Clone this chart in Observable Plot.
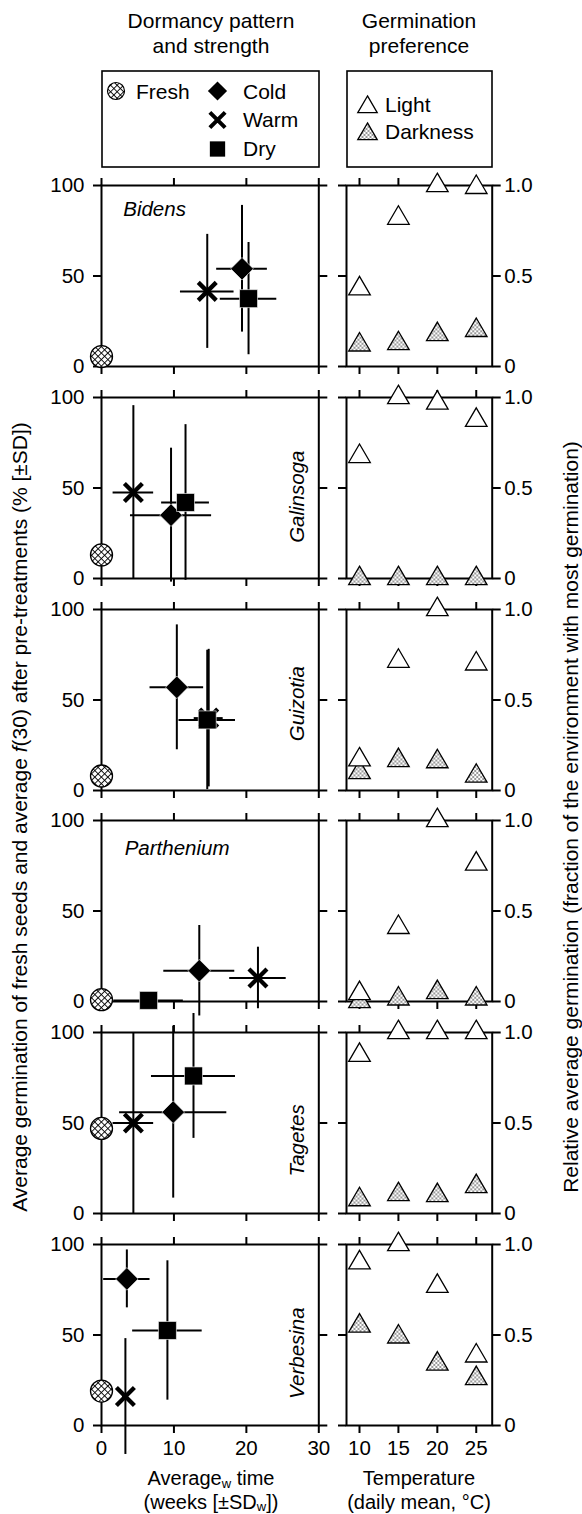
<!DOCTYPE html>
<html><head><meta charset="utf-8">
<script src="https://cdn.jsdelivr.net/npm/d3@7"></script>
<script src="https://cdn.jsdelivr.net/npm/@observablehq/plot@0.6"></script>
<style>
body{margin:0;background:#fff;}
#page{position:relative;width:582px;height:1514px;overflow:hidden;font-family:"Liberation Sans",Arial,Helvetica,sans-serif;}
#page svg{position:absolute;overflow:visible;}
</style></head><body><div id="page"></div>
<svg width="0" height="0" style="position:absolute">
 <defs>
  <pattern id="hatch" patternUnits="userSpaceOnUse" width="4.6" height="4.6" patternTransform="rotate(45)">
   <rect width="4.6" height="4.6" fill="white"/>
   <path d="M0 0.5H4.6M0.5 0V4.6" stroke="black" stroke-width="0.9"/>
  </pattern>
  <pattern id="dots" patternUnits="userSpaceOnUse" width="4" height="4">
   <rect width="4" height="4" fill="white"/>
   <circle cx="1" cy="1" r="0.75" fill="black"/>
   <circle cx="3" cy="3" r="0.75" fill="black"/>
  </pattern>
 </defs>
</svg>
<script>
// ---------------- data ----------------
const species = ["Bidens", "Galinsoga", "Guizotia", "Parthenium", "Tagetes", "Verbesina"];
const freshGerm = [5.5, 13, 8, 1, 47, 19];

const coldTime   = [19.4, 9.6, 10.4, 13.5, 9.9, 3.5];
const coldTimeSD = [3.5, 5.6, 3.7, 4.9, 7.4, 3.2];
const coldGerm   = [54, 35, 57, 17, 56, 81];
const coldGermSD = [35, 37, 34.5, 25, 47.5, 16];

const warmTime   = [14.6, 4.4, 14.8, 21.6, 4.4, 3.3];
const warmTimeSD = [3.7, 2.8, 2.0, 3.9, 2.8, 0.4];
const warmGerm   = [41.5, 47.5, 40, 13, 50, 16];
const warmGermSD = [31.5, 48, 38, 17, 50, 32];

const dryTime   = [20.3, 11.6, 14.6, 6.5, 12.7, 9.1];
const dryTimeSD = [3.9, 3.3, 3.9, 4.8, 5.8, 4.8];
const dryGerm   = [37.5, 42, 39, 0.6, 76, 52.5];
const dryGermSD = [31, 43, 38.5, 0, 34.5, 38.5];

const temperatures = [10, 15, 20, 25];
const lightRel = [
  [0.43, 0.82, 1.0, 0.99],
  [0.675, 1.0, 0.97, 0.875],
  [0.17, 0.715, 1.0, 0.70],
  [0.045, 0.41, 1.0, 0.76],
  [0.875, 1.0, 1.0, 1.0],
  [0.90, 1.0, 0.77, 0.385]
];
const darkRel = [
  [0.12, 0.127, 0.177, 0.20],
  [0.0, 0.0, 0.0, 0.0],
  [0.10, 0.166, 0.16, 0.08],
  [0.0, 0.015, 0.05, 0.015],
  [0.077, 0.105, 0.10, 0.15],
  [0.55, 0.49, 0.34, 0.26]
];
const timeTicks = [0, 10, 20, 30];
const germTicks = [0, 50, 100];
const relTicks = [0, 0.5, 1];

// ---------------- layout ----------------
const FONT = '"Liberation Sans", Arial, Helvetica, sans-serif';
const TICK_FS = "20.5px";
const PANEL_TOP0 = 185, PANEL_STEP = 211.8, PANEL_H = 181;
const labelPlacement = [
  {x: 3.0, y: 83.4, rotate: 0},
  {x: 27.1, y: 45.2, rotate: -90},
  {x: 27.1, y: 48, rotate: -90},
  {x: 3.2, y: 80.8, rotate: 0},
  {x: 27.1, y: 40.4, rotate: -90},
  {x: 27.1, y: 40, rotate: -90}
];

function mkDiamond(k){ return {draw(c){ const h=11.3*k; c.moveTo(0,-h); c.lineTo(h,0); c.lineTo(0,h); c.lineTo(-h,0); c.closePath(); }}; }
function mkSquare(k){ return {draw(c){ const s=9*k; c.moveTo(-s,-s); c.lineTo(s,-s); c.lineTo(s,s); c.lineTo(-s,s); c.closePath(); }}; }
function mkX(k){ return {draw(c){ const a=9*k; c.moveTo(-a,-a); c.lineTo(a,a); c.moveTo(-a,a); c.lineTo(a,-a); }}; }
function mkTri(k){ return {draw(c){ c.moveTo(0,-12.3*k); c.lineTo(10.8*k,6.2*k); c.lineTo(-10.8*k,6.2*k); c.closePath(); }}; }
const symDiamond = mkDiamond(1), symSquare = mkSquare(1), symX = mkX(1), symTri = mkTri(1);

const page = document.getElementById("page");
const baseStyle = {fontFamily: FONT, fontSize: TICK_FS, background: "transparent", overflow: "visible", color: "black"};
const noText = () => "";

species.forEach((sp, i) => {
  const last = i === species.length - 1;
  const top = PANEL_TOP0 + i * PANEL_STEP;
  const mt = 12, mb = last ? 40 : 12;
  const rows = [
    {trt: "warm", t: warmTime[i], tsd: warmTimeSD[i], g: warmGerm[i], gsd: warmGermSD[i]},
    {trt: "cold", t: coldTime[i], tsd: coldTimeSD[i], g: coldGerm[i], gsd: coldGermSD[i]},
    {trt: "dry", t: dryTime[i], tsd: dryTimeSD[i], g: dryGerm[i], gsd: dryGermSD[i]}
  ];
  const lp = labelPlacement[i];
  const left = Plot.plot({
    width: 340, height: PANEL_H + mt + mb,
    marginLeft: 101, marginRight: 340 - 318.3, marginTop: mt, marginBottom: mb,
    x: {domain: [0, 30], axis: null},
    y: {domain: [0, 100], axis: null},
    style: baseStyle,
    marks: [
      Plot.frame({stroke: "black", strokeWidth: 2}),
      Plot.axisY({ticks: germTicks, anchor: "left", tickSize: 8, tickPadding: 9, strokeWidth: 2, label: null}),
      Plot.axisY({ticks: germTicks, anchor: "right", tickSize: 8, strokeWidth: 2, label: null, tickFormat: noText}),
      Plot.axisX({ticks: timeTicks, anchor: "top", tickSize: 8, strokeWidth: 2, label: null, tickFormat: noText}),
      Plot.axisX({ticks: timeTicks, anchor: "bottom", tickSize: 8, tickPadding: 7, strokeWidth: 2, label: null, tickFormat: last ? undefined : noText}),
      Plot.text([sp], {x: () => lp.x, y: () => lp.y, text: d => d, rotate: lp.rotate, fontStyle: "italic",
        textAnchor: lp.rotate ? "middle" : "start", lineAnchor: lp.rotate ? "middle" : "bottom", fontSize: 20.5}),
      Plot.ruleY(rows, {y: "g", x1: d => d.t - d.tsd, x2: d => d.t + d.tsd, stroke: "black", strokeWidth: 2}),
      Plot.ruleX(rows, {x: "t", y1: d => d.g - d.gsd, y2: d => d.g + d.gsd, stroke: "black", strokeWidth: 2}),
      Plot.dot([{t: 0, g: freshGerm[i]}], {x: "t", y: "g", r: 11, fill: "url(#hatch)", stroke: "black", strokeWidth: 1.3}),
      Plot.dot(rows.filter(d => d.trt === "warm"), {x: "t", y: "g", symbol: symX, fill: "none", stroke: "black", strokeWidth: 4.3}),
      Plot.dot(rows.filter(d => d.trt === "cold"), {x: "t", y: "g", symbol: symDiamond, fill: "black", stroke: "white", strokeWidth: 0.6}),
      Plot.dot(rows.filter(d => d.trt === "dry"), {x: "t", y: "g", symbol: symSquare, fill: "black", stroke: "white", strokeWidth: 0.6})
    ]
  });
  left.style.left = "0px";
  left.style.top = (top - mt) + "px";
  page.appendChild(left);

  const light = temperatures.map((T, j) => ({T, r: lightRel[i][j]}));
  const dark = temperatures.map((T, j) => ({T, r: darkRel[i][j]}));
  const right = Plot.plot({
    width: 252, height: PANEL_H + mt + mb,
    marginLeft: 16, marginRight: 252 - 161.7, marginTop: mt, marginBottom: mb,
    x: {domain: [8.33, 27.05], axis: null},
    y: {domain: [0, 1], axis: null},
    style: baseStyle,
    marks: [
      Plot.frame({stroke: "black", strokeWidth: 2}),
      Plot.axisY({ticks: relTicks, anchor: "left", tickSize: 8, strokeWidth: 2, label: null, tickFormat: noText}),
      Plot.axisY({ticks: relTicks, anchor: "right", tickSize: 8, tickPadding: 4, strokeWidth: 2, label: null, tickFormat: d => d === 0 ? "0" : d.toFixed(1)}),
      Plot.axisX({ticks: temperatures, anchor: "top", tickSize: 8, strokeWidth: 2, label: null, tickFormat: noText}),
      Plot.axisX({ticks: temperatures, anchor: "bottom", tickSize: 8, tickPadding: 7, strokeWidth: 2, label: null, tickFormat: last ? undefined : noText}),
      Plot.dot(dark, {x: "T", y: "r", symbol: symTri, fill: "url(#dots)", stroke: "black", strokeWidth: 1.3}),
      Plot.dot(light, {x: "T", y: "r", symbol: symTri, fill: "white", stroke: "black", strokeWidth: 1.3})
    ]
  });
  right.style.left = "330px";
  right.style.top = (top - mt) + "px";
  page.appendChild(right);
});

// ---------------- titles & legends ----------------
const ov = d3.select(page).append("svg")
  .attr("width", 582).attr("height", 1514)
  .style("left", "0px").style("top", "0px").style("pointer-events", "none")
  .attr("font-family", FONT).attr("font-size", 21).attr("fill", "black");

function txt(s, x, y, anchor = "middle") {
  return ov.append("text").attr("x", x).attr("y", y).attr("text-anchor", anchor).text(s);
}
txt("Dormancy pattern", 211, 27.5);
txt("and strength", 211, 53);
txt("Germination", 419, 27.5);
txt("preference", 419, 53);

ov.append("rect").attr("x", 102).attr("y", 71).attr("width", 217).attr("height", 96)
  .attr("fill", "none").attr("stroke", "black").attr("stroke-width", 1.6);
ov.append("rect").attr("x", 347).attr("y", 71).attr("width", 145).attr("height", 96)
  .attr("fill", "none").attr("stroke", "black").attr("stroke-width", 1.6);

const k = 0.85;
ov.append("circle").attr("cx", 116).attr("cy", 91).attr("r", 8.5)
  .attr("fill", "url(#hatch)").attr("stroke", "black").attr("stroke-width", 1.2);
txt("Fresh", 136, 98.5, "start");
ov.append("path").attr("d", d3.symbol(mkDiamond(k))()).attr("transform", "translate(217.5,91)").attr("fill", "black");
txt("Cold", 243, 98.5, "start");
ov.append("path").attr("d", d3.symbol(mkX(k))()).attr("transform", "translate(217.5,120)")
  .attr("fill", "none").attr("stroke", "black").attr("stroke-width", 4);
txt("Warm", 243, 127, "start");
ov.append("path").attr("d", d3.symbol(mkSquare(k))()).attr("transform", "translate(217.5,149)").attr("fill", "black");
txt("Dry", 243, 155.5, "start");

ov.append("path").attr("d", d3.symbol(mkTri(0.9))()).attr("transform", "translate(367.5,107)")
  .attr("fill", "white").attr("stroke", "black").attr("stroke-width", 1.3);
txt("Light", 385, 112, "start");
ov.append("path").attr("d", d3.symbol(mkTri(0.9))()).attr("transform", "translate(367.5,134)")
  .attr("fill", "url(#dots)").attr("stroke", "black").attr("stroke-width", 1.3);
txt("Darkness", 385, 138.5, "start");

// y-axis titles
const yl = ov.append("text").attr("transform", "translate(26.7,817) rotate(-90)").attr("text-anchor", "middle");
yl.append("tspan").text("Average germination of fresh seeds and average ");
yl.append("tspan").attr("font-style", "italic").text("f");
yl.append("tspan").text("(30) after pre-treatments (% [±SD])");
ov.append("text").attr("transform", "translate(577.5,817) rotate(-90)").attr("text-anchor", "middle")
  .text("Relative average germination (fraction of the environment with most germination)");

// x-axis titles
const xl1 = ov.append("text").attr("x", 211).attr("y", 1485).attr("text-anchor", "middle").attr("font-size", 20);
xl1.append("tspan").text("Average");
xl1.append("tspan").attr("dy", 3).attr("font-size", 13).text("w");
xl1.append("tspan").attr("dy", -3).text(" time");
const xl2 = ov.append("text").attr("x", 211).attr("y", 1509).attr("text-anchor", "middle").attr("font-size", 20);
xl2.append("tspan").text("(weeks [±SD");
xl2.append("tspan").attr("dy", 2).attr("font-size", 13).text("w");
xl2.append("tspan").attr("dy", -2).text("])");
ov.append("text").attr("x", 419).attr("y", 1485).attr("text-anchor", "middle").attr("font-size", 20).text("Temperature");
ov.append("text").attr("x", 419).attr("y", 1509).attr("text-anchor", "middle").attr("font-size", 20).text("(daily mean, °C)");
</script>
</body></html>
